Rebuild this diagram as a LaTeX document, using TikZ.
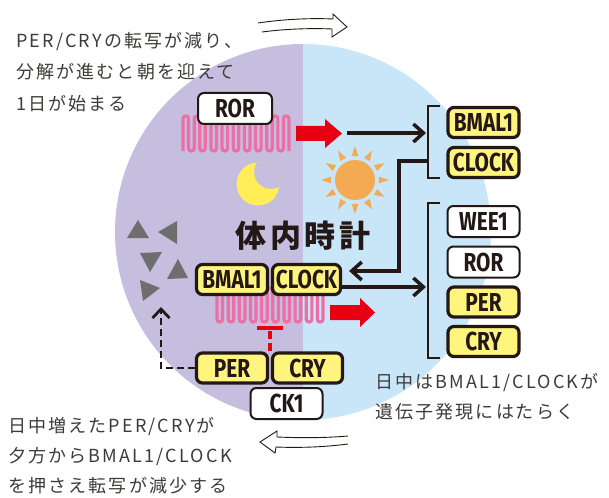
\documentclass[tikz,border=0pt]{standalone}
\usepackage{fontspec}
\setmainfont{Noto Sans CJK JP}
\newfontfamily\jpfont[LetterSpace=12]{Noto Sans CJK JP}
\newfontfamily\lblfont[FakeStretch=0.8]{Fira Sans}
\usetikzlibrary{arrows.meta}

\definecolor{nightbg}{HTML}{C5BEDE}
\definecolor{daybg}{HTML}{C8E6F8}
\definecolor{boxyellow}{HTML}{FFF47E}
\definecolor{ink}{HTML}{231815}
\definecolor{pinkline}{HTML}{EC6FA7}
\definecolor{alarmred}{HTML}{E60012}
\definecolor{sunorange}{HTML}{F4AA52}
\definecolor{moonyellow}{HTML}{FFEE58}
\definecolor{trigray}{HTML}{6E6E6E}
\definecolor{textgray}{HTML}{3E3A39}

\begin{document}
\begin{tikzpicture}[x=1pt,y=-1pt,
  gene/.style={draw=ink, line width=3.2pt, fill=boxyellow, rounded corners=6pt,
    minimum width=71pt, minimum height=30pt, inner sep=0pt,
    text height=18pt, text depth=0pt,
    font=\lblfont\bfseries\fontsize{26}{26}\selectfont, text=ink},
  plaingene/.style={gene, fill=white, line width=2pt, minimum width=72pt, minimum height=31pt},
  note/.style={align=left, inner sep=0pt, anchor=north west, text=textgray},
  meander/.style={draw=pinkline, line width=3.2pt, rounded corners=2.7pt},
  blackarrow/.style={draw=ink, line width=3.5pt, -{Straight Barb[length=10pt,width=18pt]}},
  dashedarrow/.style={draw=ink, line width=2.8pt, dash pattern=on 7pt off 4pt,
    -{Straight Barb[length=9pt,width=17pt]}},
  inhibit/.style={draw=alarmred, line width=3.5pt, dash pattern=on 8pt off 4pt},
  bracketline/.style={draw=ink, line width=1.6pt},
  cyclearrow/.style={draw=ink, line width=0.9pt, fill=white, line join=miter},
  blockarrow/.style={fill=alarmred},
  pointer/.style={fill=trigray}]

\useasboundingbox (0,0) rectangle (609,497);

% clock face: night half and day half
\begin{scope}
  \clip (303,232) circle (188);
  \fill[nightbg] (100,30) rectangle (303,430);
  \fill[daybg] (303,30) rectangle (500,430);
\end{scope}

% cycle arrows around the face
\draw[cyclearrow] (258,23) .. controls (285,19) and (312,18) .. (333,19)
  -- (333,14) -- (347,27) -- (332,37) -- (332,29)
  .. controls (310,28) and (285,29) .. (262,32);
\draw[cyclearrow] (348,436) .. controls (325,438) and (300,438) .. (277,437)
  -- (277,431) -- (260,442) -- (275,453) -- (276,447)
  .. controls (300,448) and (325,447) .. (348,444);

% ROR gene strand
\draw[meander] (183,151)
  \foreach \i in {0,...,8} {
    -- ({183+2*\i*5.58},116) -- ({183+(2*\i+1)*5.58},116)
    -- ({183+(2*\i+1)*5.58},151) -- ({183+(2*\i+2)*5.58},151) }
  -- (283.4,116) -- (289,116) -- (289,151);

% BMAL1/CLOCK gene strand
\draw[meander] (217,288)
  \foreach \i in {0,...,8} {
    -- ({217+2*\i*5.58},322) -- ({217+(2*\i+1)*5.58},322)
    -- ({217+(2*\i+1)*5.58},288) -- ({217+(2*\i+2)*5.58},288) }
  -- (317.4,322) -- (323,322) -- (323,288);

% red transcription arrows
\fill[blockarrow] (296,126) -- (325,126) -- (325,119) -- (342,133.5)
  -- (325,148) -- (325,141) -- (296,141) -- cycle;
\fill[blockarrow] (330,305) -- (360,305) -- (360,298) -- (375,312.5)
  -- (360,327) -- (360,320) -- (330,320) -- cycle;

% moon
\begin{scope}
  \clip (258,184) circle (21.5);
  \fill[moonyellow, even odd rule] (258,184) circle (21.5) (271,172) circle (17);
\end{scope}

% sun
\fill[sunorange] (355,180) circle (20);
\foreach \a in {0,30,...,330} {
  \fill[sunorange] ({355+24*cos(\a-8)},{180+24*sin(\a-8)})
    -- ({355+34*cos(\a)},{180+34*sin(\a)})
    -- ({355+24*cos(\a+8)},{180+24*sin(\a+8)}) -- cycle;
}

% degraded proteins
\fill[pointer] (138,220) -- (149,238) -- (127,238) -- cycle;
\fill[pointer] (158,232) -- (177,221) -- (177,244) -- cycle;
\fill[pointer] (140,253) -- (162,252) -- (150,272) -- cycle;
\fill[pointer] (178,259) -- (188,278) -- (167,279) -- cycle;
\fill[pointer] (140,280) -- (160,288) -- (143,301) -- cycle;

% title
\node[font=\jpfont\bfseries\fontsize{31}{31}\selectfont, text=ink, inner sep=0pt]
  (clockname) at (303,236) {体内時計};

% gene boxes on the face
\node[plaingene, minimum width=74pt] (rorTop) at (235,108.5) {ROR};
\node[gene] (bmalM) at (232,279.5) {BMAL1};
\node[gene, minimum width=68pt] (clockM) at (306.5,279.5) {CLOCK};
\node[gene] (perM) at (232,368) {PER};
\node[gene, minimum width=70pt] (cryM) at (307.5,368) {CRY};
\node[plaingene] (ck1) at (286.5,403.5) {CK1};

% target gene boxes
\node[gene] (bmalR) at (483.5,122.5) {BMAL1};
\node[gene] (clockR) at (483.5,162.5) {CLOCK};
\node[plaingene] (wee1R) at (483.5,221.5) {WEE1};
\node[plaingene] (rorR) at (483.5,262) {ROR};
\node[gene] (perR) at (483.5,302) {PER};
\node[gene] (cryR) at (483.5,341.5) {CRY};

% brackets grouping the targets
\draw[bracketline] (440,106) -- (428,106) -- (428,178) -- (440,178);
\draw[bracketline] (440,203) -- (428,203) -- (428,358) -- (440,358);

% regulatory connectors
\coordinate (rorOut) at (347,133);
\coordinate (morningTargets) at (426,133);
\coordinate (feedback) at (428,161);
\coordinate (turn) at (399,271);
\coordinate (dayTargets) at (426,287);
\coordinate (feedTip) at (161,307);
\coordinate (inhibitBar) at (270,328);

\draw[blackarrow] (rorOut) -- (morningTargets);
\draw[blackarrow] (feedback) -| (turn) -- ([xshift=7pt]clockM.east |- turn);
\draw[blackarrow] (clockM.east |- dayTargets) -- (dayTargets);
\draw[dashedarrow] (perM.west) -| (feedTip);
\draw[inhibit] (inhibitBar |- perM.north) -- (inhibitBar);
\draw[draw=alarmred, line width=3.5pt] ([xshift=-13pt]inhibitBar) -- ([xshift=13pt]inhibitBar);

% captions
\node[note, font=\jpfont\fontsize{18}{31.5}\selectfont] (morning) at (16,32)
  {PER/CRYの転写が減り、\\分解が進むと朝を迎えて\\1日が始まる};
\node[note, font=\jpfont\fontsize{18}{30}\selectfont] (daytime) at (375,373)
  {日中はBMAL1/CLOCKが\\遺伝子発現にはたらく};
\node[note, font=\jpfont\fontsize{18}{30}\selectfont] (evening) at (8,417)
  {日中増えたPER/CRYが\\夕方からBMAL1/CLOCK\\を押さえ転写が減少する};

\end{tikzpicture}
\end{document}
